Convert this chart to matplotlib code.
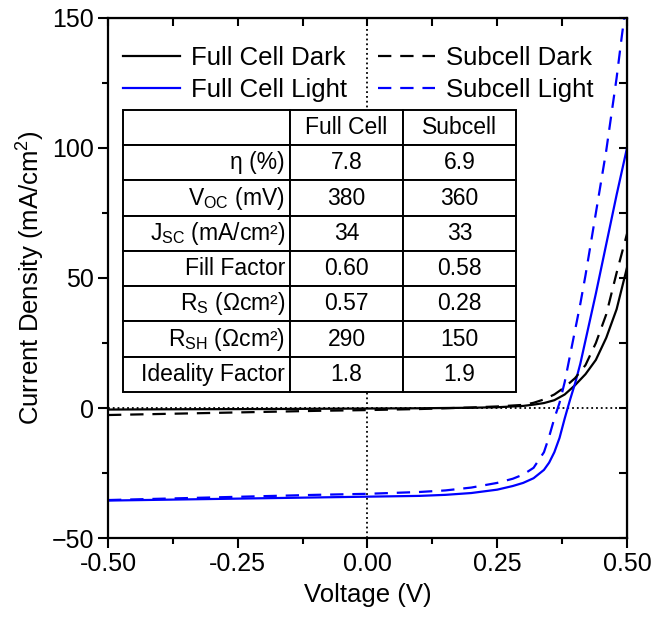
"""J-V curves of full cell vs subcell, dark and light, with parameter table."""
import matplotlib
matplotlib.use("Agg")
import matplotlib.pyplot as plt
from matplotlib.ticker import MultipleLocator, FormatStrFormatter

plt.rcParams["font.family"] = ["Liberation Sans", "DejaVu Sans"]
plt.rcParams["mathtext.fontset"] = "custom"
plt.rcParams["mathtext.rm"] = "Liberation Sans"
plt.rcParams["mathtext.it"] = "Liberation Sans:italic"

# voltage (V) / current density (mA/cm^2)
full_light_v = [-0.50, -0.40, -0.30, -0.20, -0.10, 0.00, 0.10, 0.15, 0.20, 0.25, 0.28,
                0.30, 0.32, 0.34, 0.35, 0.36, 0.37, 0.38, 0.39, 0.40, 0.41, 0.42,
                0.44, 0.46, 0.48, 0.50]
full_light_j = [-35.6, -35.3, -35.0, -34.7, -34.4, -34.1, -33.8, -33.4, -32.7, -31.4, -30.0,
                -28.8, -27.0, -23.8, -21.0, -17.0, -11.5, -4.0, 3.0, 9.5, 17.0, 26.0,
                44.0, 63.0, 82.0, 100.0]

sub_light_v = [-0.50, -0.40, -0.30, -0.20, -0.10, 0.00, 0.10, 0.15, 0.20, 0.25, 0.28,
               0.30, 0.32, 0.34, 0.35, 0.36, 0.37, 0.38, 0.39, 0.40, 0.41, 0.42,
               0.43, 0.44, 0.45, 0.46, 0.47, 0.48, 0.49, 0.50]
sub_light_j = [-35.4, -34.9, -34.4, -33.9, -33.4, -33.0, -32.3, -31.7, -30.6, -28.8, -27.2,
               -25.6, -23.0, -17.0, -11.0, -4.0, 2.0, 10.0, 20.0, 30.0, 40.0, 51.0,
               63.0, 75.0, 87.0, 99.0, 113.0, 127.0, 143.0, 158.0]

full_dark_v = [-0.50, -0.40, -0.30, -0.20, -0.10, 0.00, 0.10, 0.20, 0.25, 0.30, 0.32,
               0.34, 0.36, 0.38, 0.40, 0.42, 0.44, 0.46, 0.48, 0.50]
full_dark_j = [-0.6, -0.5, -0.45, -0.4, -0.3, -0.2, -0.1, 0.1, 0.3, 0.8, 1.3,
               1.9, 3.0, 5.2, 8.8, 13.0, 18.5, 27.0, 38.0, 54.0]

sub_dark_v = [-0.50, -0.40, -0.30, -0.20, -0.10, 0.00, 0.10, 0.20, 0.25, 0.30, 0.32,
              0.34, 0.36, 0.38, 0.40, 0.42, 0.44, 0.46, 0.48, 0.50]
sub_dark_j = [-2.7, -2.3, -1.9, -1.5, -1.1, -0.8, -0.4, 0.2, 0.6, 1.2, 2.0,
              3.3, 5.2, 8.0, 11.5, 16.5, 25.0, 36.0, 52.0, 67.0]

table_cols = ["", "Full Cell", "Subcell"]
table_params = [r"η (%)", r"V$_\mathregular{OC}$ (mV)", r"J$_\mathregular{SC}$ (mA/cm²)",
                "Fill Factor", r"R$_\mathregular{S}$ (Ωcm²)", r"R$_\mathregular{SH}$ (Ωcm²)",
                "Ideality Factor"]
table_full = ["7.8", "380", "34", "0.60", "0.57", "290", "1.8"]
table_sub = ["6.9", "360", "33", "0.58", "0.28", "150", "1.9"]

fig = plt.figure(figsize=(6.56, 6.24), dpi=100)
ax = fig.add_axes([0.1646, 0.1378, 0.7912, 0.8334])

ax.axhline(0, color="black", ls=":", lw=1.3, zorder=1)
ax.axvline(0, color="black", ls=":", lw=1.3, zorder=1)

lw = 1.6
ax.plot(full_dark_v, full_dark_j, color="black", lw=lw, label="Full Cell Dark")
ax.plot(full_light_v, full_light_j, color="#0000ff", lw=lw, label="Full Cell Light")
ax.plot(sub_dark_v, sub_dark_j, color="black", lw=lw, dashes=(6, 4), label="Subcell Dark")
ax.plot(sub_light_v, sub_light_j, color="#0000ff", lw=lw, dashes=(6, 4), label="Subcell Light")

ax.set_xlim(-0.5, 0.5)
ax.set_ylim(-50, 150)
ax.xaxis.set_major_locator(MultipleLocator(0.25))
ax.xaxis.set_minor_locator(MultipleLocator(0.125))
ax.xaxis.set_major_formatter(FormatStrFormatter("%.2f"))
ax.yaxis.set_major_locator(MultipleLocator(50))
ax.yaxis.set_minor_locator(MultipleLocator(25))
ax.tick_params(which="both", direction="out", labelsize=18, width=1.5, pad=3)
ax.tick_params(which="major", length=7)
ax.tick_params(which="minor", length=4)
for s in ax.spines.values():
    s.set_linewidth(1.6)

top = ax.secondary_xaxis("top")
top.xaxis.set_major_locator(MultipleLocator(0.125))
top.tick_params(direction="in", length=6, width=1.5, labeltop=False)
right = ax.secondary_yaxis("right")
right.yaxis.set_major_locator(MultipleLocator(25))
right.tick_params(direction="in", length=6, width=1.5, labelright=False)

ax.set_xlabel("Voltage (V)", fontsize=18.5, labelpad=5)
ax.set_ylabel(r"Current Density (mA/cm$^\mathregular{2}$)", fontsize=18.5, labelpad=3)

handles, labels = ax.get_legend_handles_labels()
ax.legend(handles, labels, ncol=2,
          frameon=False, fontsize=18.5, loc="upper left", bbox_to_anchor=(0.0, 0.975),
          handlelength=2.2, handletextpad=0.45, columnspacing=1.2, labelspacing=0.3,
          borderaxespad=0.3, borderpad=0.3)

cell_text = [[p, f, s] for p, f, s in zip(table_params, table_full, table_sub)]
tbl = ax.table(cellText=cell_text, colLabels=table_cols,
               bbox=[0.029, 0.281, 0.757, 0.542],
               colWidths=[167, 113, 113], cellLoc="center")
tbl.auto_set_font_size(False)
tbl.set_fontsize(16.5)
for (r, c), cell in tbl.get_celld().items():
    cell.set_linewidth(1.4)
    cell.set_edgecolor("black")
    cell.set_facecolor("white")
    if c == 0:
        cell.set_text_props(ha="right")
        cell.PAD = 0.03
tbl.set_zorder(3)

fig.savefig("out.png", dpi=100)
